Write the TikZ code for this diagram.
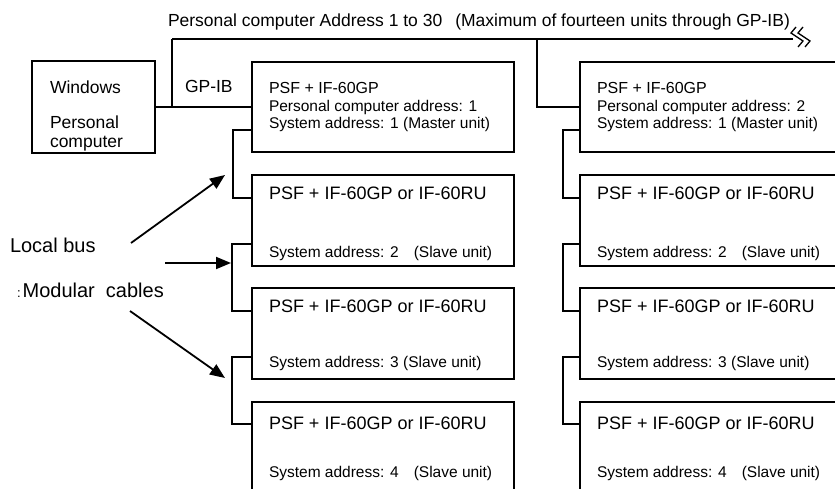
\documentclass[tikz,border=0pt]{standalone}
\usepackage{fontspec}
\setmainfont{Liberation Sans}
\usetikzlibrary{arrows.meta,calc}
\begin{document}
\begin{tikzpicture}[x=1pt,y=-1pt,
  box/.style={draw,line width=1.6pt,inner sep=0pt,outer sep=0pt,anchor=north west},
  wire/.style={line width=1.4pt},
  arr/.style={line width=1.8pt,-{Triangle[length=15pt,width=12pt]}},
  lbl/.style={anchor=base west,inner sep=0pt,outer sep=0pt},
  ttl/.style={lbl,font=\fontsize{17.5}{17.5}\selectfont},
  head/.style={lbl,font=\fontsize{16}{16}\selectfont},
  big/.style={lbl,font=\fontsize{18}{18}\selectfont},
  small/.style={lbl,font=\fontsize{15.5}{15.5}\selectfont},
  side/.style={lbl,font=\fontsize{20}{20}\selectfont}
]
\clip (0,0) rectangle (835,489);
\fill[white] (0,0) rectangle (835,489);

% boxes
\node[box,minimum width=123pt,minimum height=92pt] (W) at (32,61) {};
\node[box,minimum width=262pt,minimum height=90pt] (L1) at (252,62) {};
\node[box,minimum width=262pt,minimum height=91pt] (L2) at (252,175) {};
\node[box,minimum width=262pt,minimum height=91pt] (L3) at (252,288) {};
\node[box,minimum width=262pt,minimum height=110pt] (L4) at (252,402) {};
\node[box,minimum width=270pt,minimum height=90pt] (R1) at (580,62) {};
\node[box,minimum width=270pt,minimum height=91pt] (R2) at (580,175) {};
\node[box,minimum width=270pt,minimum height=91pt] (R3) at (580,288) {};
\node[box,minimum width=270pt,minimum height=110pt] (R4) at (580,402) {};

% GP-IB bus
\coordinate (busA) at (172,39);
\coordinate (busB) at (537,39);
\coordinate (busE) at (793,39);
\draw[wire] (W.east) -- (L1.west);
\draw[wire] (busA) -- (busE);
\draw[wire] (busA) -- (busA |- W.east);
\draw[wire] (busB) |- (R1.west);
\draw[line width=1.3pt] (796,27) -- (791,33) -- (803,41) -- (798,47);
\draw[line width=1.3pt] (803,27) -- (798,33) -- (810,41) -- (805,47);

% local bus brackets
\draw[wire] ([yshift=-68pt]L1.north west) -- ++(-19,0) |- ([yshift=-23pt]L2.north west);
\draw[wire] ([yshift=-69pt]L2.north west) -- ++(-20,0) |- ([yshift=-23pt]L3.north west);
\draw[wire] ([yshift=-69pt]L3.north west) -- ++(-20,0) |- ([yshift=-22pt]L4.north west);
\draw[wire] ([yshift=-68pt]R1.north west) -- ++(-17,0) |- ([yshift=-23pt]R2.north west);
\draw[wire] ([yshift=-69pt]R2.north west) -- ++(-17,0) |- ([yshift=-23pt]R3.north west);
\draw[wire] ([yshift=-69pt]R3.north west) -- ++(-17,0) |- ([yshift=-22pt]R4.north west);

% arrows
\coordinate (a1s) at (131,243); \coordinate (a1e) at (225,175);
\coordinate (a2s) at (165,263); \coordinate (a2e) at (231,263);
\coordinate (a3s) at (130,311); \coordinate (a3e) at (225,378);
\draw[arr] (a1s) -- (a1e);
\draw[arr] (a2s) -- (a2e);
\draw[arr] (a3s) -- (a3e);

% texts
\node[ttl] (title) at (168,27) {Personal computer Address 1 to 30\hspace{13pt}(Maximum of fourteen units through GP-IB)};
\node[ttl] (gpib) at (185,93) {GP-IB};
\node[ttl] (w1) at (50,94) {Windows};
\node[ttl] (w2) at (50,129) {Personal};
\node[ttl] (w3) at (50,148) {computer};

\node[head] (l1a) at (269,94) {PSF + IF-60GP};
\node[small] (l1b) at (269,112) {Personal computer address: 1};
\node[small] (l1c) at (269,129) {System address: 1 (Master unit)};
\node[big] (l2a) at (269,200) {PSF + IF-60GP or IF-60RU};
\node[small] (l2b) at (269,257) {System address: 2\hspace{15pt}(Slave unit)};
\node[big] (l3a) at (269,312) {PSF + IF-60GP or IF-60RU};
\node[small] (l3b) at (269,367) {System address: 3 (Slave unit)};
\node[big] (l4a) at (269,429) {PSF + IF-60GP or IF-60RU};
\node[small] (l4b) at (269,477) {System address: 4\hspace{15pt}(Slave unit)};

\node[head] (r1a) at (597,94) {PSF + IF-60GP};
\node[small] (r1b) at (597,112) {Personal computer address: 2};
\node[small] (r1c) at (597,129) {System address: 1 (Master unit)};
\node[big] (r2a) at (597,200) {PSF + IF-60GP or IF-60RU};
\node[small] (r2b) at (597,257) {System address: 2\hspace{15pt}(Slave unit)};
\node[big] (r3a) at (597,312) {PSF + IF-60GP or IF-60RU};
\node[small] (r3b) at (597,367) {System address: 3 (Slave unit)};
\node[big] (r4a) at (597,429) {PSF + IF-60GP or IF-60RU};
\node[small] (r4b) at (597,477) {System address: 4\hspace{15pt}(Slave unit)};

\node[side] (lb) at (10,252) {Local bus};
\node[side] (mc) at (17,297) {{\fontsize{13}{13}\selectfont :}\hspace{2pt}Modular\ \ cables};
\end{tikzpicture}
\end{document}
